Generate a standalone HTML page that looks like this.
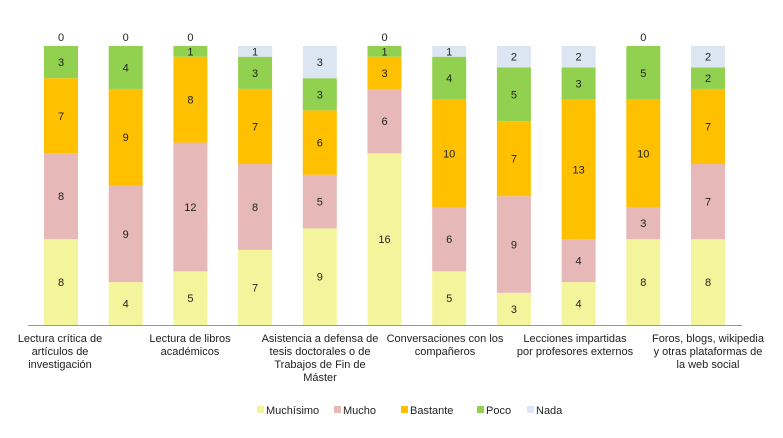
<!DOCTYPE html>
<html><head><meta charset="utf-8"><style>
body{margin:0;background:#fff;font-family:"Liberation Sans",sans-serif;}
svg text{font-family:"Liberation Sans",sans-serif;fill:#222;}
</style></head><body>
<svg id="chart" width="783" height="433" xmlns="http://www.w3.org/2000/svg"></svg>
<script>
const categories=["Lectura crítica de artículos de investigación","","Lectura de libros académicos","","Asistencia a defensa de tesis doctorales o de Trabajos de Fin de Máster","Conversaciones con los compañeros","","","Lecciones impartidas por profesores externos","","Foros, blogs, wikipedia y otras plataformas de la web social"];
const seriesNames=["Muchísimo","Mucho","Bastante","Poco","Nada"];
const muchisimo=[8,4,5,7,9,16,5,3,4,8,8];
const mucho=[8,9,12,8,5,6,6,9,4,3,7];
const bastante=[7,9,8,7,6,3,10,7,13,10,7];
const poco=[3,4,1,3,3,1,4,5,3,5,2];
const nada=[0,0,0,1,3,0,1,2,2,0,2];
const labelLines=[["Lectura crítica de","artículos de","investigación"],["Lectura de libros","académicos"],["Asistencia a defensa de","tesis doctorales o de","Trabajos de Fin de","Máster"],["Conversaciones con los","compañeros"],["Lecciones impartidas","por profesores externos"],["Foros, blogs, wikipedia","y otras plataformas de","la web social"]];
const labelCenters=[60,190,320,445,575,708];
const colors=["#f3f59c","#e6b8b7","#ffc000","#92d050","#dce6f2"];
const series=[muchisimo,mucho,bastante,poco,nada];
const svg=document.getElementById('chart');
const NS="http://www.w3.org/2000/svg";
const base=325,top0=46,bw=34;
const totals=muchisimo.map((_,i)=>series.reduce((s,a)=>s+a[i],0));
const y=(v,i)=>base-(v/totals[i])*(base-top0);
const xc=i=>61+i*64.7;
function mk(t,a){const e=document.createElementNS(NS,t);for(const k in a)e.setAttribute(k,a[k]);svg.appendChild(e);return e;}
for(let i=0;i<categories.length;i++){
 let cum=0;
 for(let s=0;s<series.length;s++){
  const v=series[s][i];
  const y1=y(cum,i),y2=y(cum+v,i);
  const r=mk('rect',{x:xc(i)-bw/2,y:y2,width:bw,height:y1-y2,fill:colors[s]});
  
  
  const ty=v>0?(y1+y2)/2+4:y2-5;
  const t=mk('text',{x:xc(i),y:ty,'text-anchor':'middle','font-size':11});
  t.textContent=v;
  
  
  cum+=v;
 }
}
const ax=mk('line',{x1:28,x2:742,y1:base+0.5,y2:base+0.5,stroke:'#999'});


labelLines.forEach((lines,j)=>{
 lines.forEach((l,k)=>{
  const t=mk('text',{x:labelCenters[j],y:342+k*13,'text-anchor':'middle','font-size':11});
  t.textContent=l;
  
  
 });
});
const legX=[257,334,401,477,527];
seriesNames.forEach((n,s)=>{
 const r=mk('rect',{x:legX[s],y:406,width:7,height:7,fill:colors[s]});
 
 
 const t=mk('text',{x:legX[s]+9,y:414,'font-size':11});
 t.textContent=n;
 
 
});
</script>
</body></html>
